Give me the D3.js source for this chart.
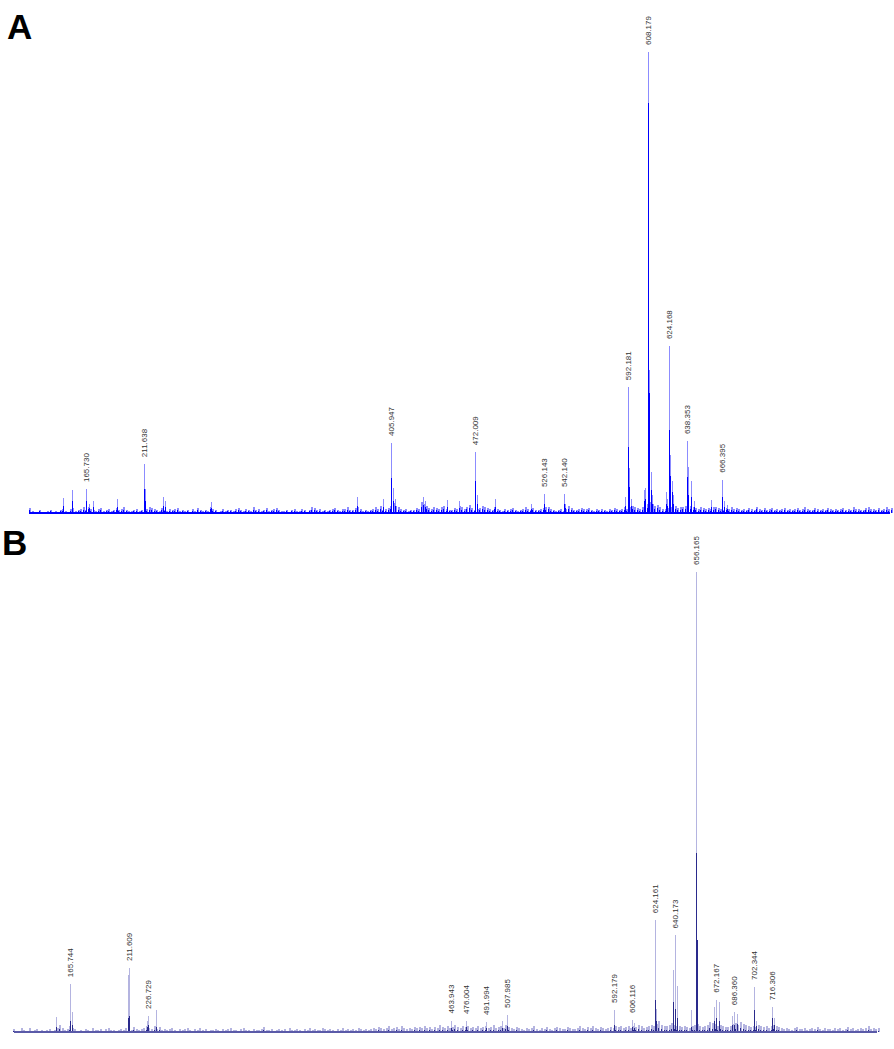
<!DOCTYPE html>
<html><head><meta charset="utf-8">
<script src="https://cdn.jsdelivr.net/npm/d3@7"></script>
<style>body{margin:0;background:#fff;}svg{display:block;}</style>
</head><body>
<svg id="chart" width="894" height="1049"></svg>
<script>
// ---------- DATA ----------
const mzDomain = [120, 800];
const intensityDomain = [0, 100];
const panelLetters = ["A", "B"];

// Panel A – prominent peaks (m/z, relative intensity of the stick top, intensity of the dense core)
const peakMzA   = [147.5,154.6,165.730,168.0,171.0,190.0,211.638,212.4,226.5,228.0,264.0,379.0,399.5,405.947,407.5,408.5,431.0,432.5,449.8,459.3,472.009,473.5,487.6,516.0,526.143,542.140,543.0,589.9,592.181,593.0,594.5,604.5,605.5,608.179,609.0,610.0,611.0,622.0,623.0,624.168,625.3,626.5,627.5,638.353,639.6,641.5,644.0,657.8,666.395,667.5,670.0];
const peakIntA  = [3.3,5.0,5.2,2.0,2.5,3.0,10.6,5.2,3.5,2.5,2.4,3.5,3.0,15.2,5.4,3.0,3.5,2.5,2.8,2.6,13.2,4.0,3.0,2.0,4.1,4.1,2.0,3.5,27.3,9.8,3.0,5.0,5.4,100,31,9,4,4.5,3.0,36.2,12.6,7.0,4.0,15.6,10.0,7.0,2.5,2.8,7.2,2.5,1.8];
const peakCoreA = [1.5,2.5,2.6,1.0,1.2,1.2,5.2,2.6,1.5,1.2,1.0,1.5,1.2,7.6,2.7,1.5,1.8,1.2,1.2,1.0,7.0,2.0,1.2,0.8,2.0,2.0,1.0,1.5,14.3,5.6,1.5,2.5,3.0,89,26,5,2,2.0,1.5,18.0,8.0,4.5,2.0,7.8,4.0,3.5,1.2,1.2,3.5,1.2,0.9];
const labelsA = ["165.730","211.638","405.947","472.009","526.143","542.140","592.181","608.179","624.168","638.353","666.395"];

// Panel B – prominent peaks
const peakMzB   = [154.5,165.744,167.0,211.0,211.609,225.5,226.729,232.9,463.943,476.004,491.994,504.0,507.985,592.179,606.116,608.0,621.5,624.161,625.0,638.5,640.173,641.5,652.5,656.165,656.9,657.5,670.5,672.167,674.2,684.5,686.360,688.5,702.344,703.5,716.306,717.5];
const peakIntB  = [3.3,10.4,4.3,12.4,13.9,2.5,3.5,4.8,2.5,2.4,2.2,2.4,3.7,4.8,2.6,2.0,1.5,24.3,5.0,13.5,21.0,10.0,4.8,100,20,9.6,5.4,7.0,6.5,3.5,4.3,4.0,9.8,2.5,5.4,3.0];
const peakCoreB = [1.0,2.5,1.5,3.0,3.5,1.0,1.5,1.0,0.8,1.0,0.8,0.8,1.2,1.5,1.0,0.8,0.6,7.0,2.5,6.5,5.0,3.0,1.0,39,20,5.0,2.5,3.0,2.5,1.5,1.5,1.8,4.8,1.2,3.1,1.5];
const labelsB = ["165.744","211.609","226.729","463.943","476.004","491.994","507.985","592.179","606.116","624.161","640.173","656.165","672.167","686.360","702.344","716.306"];

// Background noise sticks, sampled every 2 m/z from m/z 121
const noiseStart = 121, noiseStep = 2;
const noiseA = [
1.0,0.4,0.2,0.3,0.6,0.2,0.1,0.5,0.7,0.3,0.4,0.2,0.6,0.9,0.4,0.3,0.8,1.1,0.5,0.7,
0.9,1.2,0.6,1.4,0.8,0.7,0.5,0.9,1.0,0.4,0.6,0.8,0.5,0.7,1.0,0.6,0.9,1.2,0.7,0.5,
0.4,0.6,0.8,0.5,0.7,0.3,0.9,1.3,1.0,0.8,0.6,0.4,1.1,0.7,0.5,0.9,0.6,0.8,1.0,0.5,
0.7,0.4,0.6,0.3,0.8,0.5,1.0,0.6,0.4,0.7,0.5,1.4,0.9,0.6,0.3,0.5,0.8,0.4,0.6,0.7,
0.5,0.8,1.0,0.6,0.4,0.9,0.7,0.5,1.2,0.6,0.8,0.4,0.7,1.0,0.5,0.6,0.9,1.1,0.6,0.4,
0.5,0.7,0.3,0.6,0.8,0.4,0.5,0.9,0.6,0.3,0.7,1.2,1.0,0.6,0.8,0.5,0.7,0.4,0.6,0.8,
1.1,0.6,0.5,0.8,0.9,1.3,0.7,0.6,1.0,1.4,0.8,0.5,0.6,0.4,0.7,0.9,1.2,0.8,1.5,0.6,
0.8,1.0,1.6,2.2,1.5,1.2,0.8,0.6,0.9,0.5,0.7,0.6,1.0,0.8,2.4,2.0,1.6,1.1,0.9,1.3,
1.0,0.8,1.2,1.5,0.9,0.7,0.6,1.0,0.8,1.6,1.2,0.9,1.4,1.8,1.0,0.7,0.8,1.1,1.5,1.2,
1.0,0.8,0.6,1.4,0.9,0.7,0.5,0.8,0.6,0.9,1.0,0.7,0.5,0.6,0.8,1.2,0.9,0.6,1.0,0.7,
0.6,0.8,1.0,1.2,1.4,0.9,0.7,0.5,0.6,0.8,0.4,0.9,1.6,1.0,0.7,0.6,0.9,1.1,0.8,0.9,
1.0,0.7,0.5,0.8,0.6,0.9,0.7,0.5,0.8,0.6,1.0,0.8,0.6,0.9,1.2,0.8,1.4,1.6,1.2,1.0,
0.9,1.2,1.5,2.0,2.4,2.0,1.6,1.8,1.2,0.9,0.8,1.0,1.3,1.1,1.6,1.0,1.2,1.4,1.5,1.8,
1.6,1.2,1.0,0.8,1.2,1.0,0.9,1.1,0.8,1.2,1.4,1.0,0.9,0.7,1.0,0.8,1.2,0.9,1.1,0.8,
0.7,0.9,0.6,1.0,0.8,0.6,1.4,0.9,0.7,1.0,0.6,0.8,1.1,0.7,0.9,0.6,0.8,1.0,0.7,0.9,
0.6,0.8,1.0,0.7,0.9,1.2,0.8,0.6,0.7,1.0,0.8,0.6,0.9,0.7,1.1,0.8,0.6,0.9,0.7,0.8,
1.0,0.7,0.9,0.6,1.2,0.8,0.9,0.7,0.6,1.0,1.3,0.9,0.8,0.6,1.1,0.7,0.9,1.2,0.8,1.0];
const noiseB = [
0.6,0.3,0.2,0.8,0.4,0.3,0.9,0.2,0.4,0.7,0.3,0.5,0.2,0.4,0.6,0.3,0.5,0.8,1.6,0.9,
0.4,0.7,1.2,0.8,0.6,0.3,0.5,0.2,0.6,0.4,0.3,0.8,0.5,0.4,0.7,0.3,0.6,0.9,0.4,0.5,
0.3,0.5,0.7,0.4,0.8,0.6,0.4,1.0,0.7,0.5,0.6,0.9,1.2,0.8,0.6,1.4,0.7,1.0,0.5,0.6,
0.4,0.6,0.8,0.5,0.3,0.7,0.4,0.6,0.9,0.5,0.3,0.6,0.4,0.8,0.5,0.7,0.3,0.5,0.4,0.6,
0.5,0.3,0.7,0.4,0.6,0.9,0.5,0.4,0.3,0.6,0.8,0.4,0.5,0.3,0.7,0.5,0.4,0.6,1.0,0.5,
0.4,0.6,0.3,0.5,0.7,0.4,0.6,0.3,0.8,0.5,0.4,0.7,0.5,0.3,0.6,0.4,0.9,0.5,0.6,0.4,
0.5,0.8,0.6,0.4,0.7,0.5,0.3,0.6,0.4,0.8,0.5,0.7,0.4,0.6,0.5,0.9,0.6,0.4,0.7,0.5,
0.6,0.9,0.7,1.0,0.8,0.6,0.9,1.2,0.7,0.8,1.0,0.6,1.4,0.8,0.7,0.9,0.6,1.1,0.8,1.0,
0.9,1.3,0.8,1.0,0.7,1.1,0.9,1.5,1.0,0.8,1.2,0.9,1.1,1.6,1.0,0.8,1.2,1.0,1.4,0.9,
1.0,0.8,1.2,0.9,1.0,1.4,0.8,1.1,1.5,0.9,1.0,1.3,0.8,1.6,1.0,0.9,0.7,1.1,0.8,0.6,
0.5,0.8,0.6,0.9,1.2,0.7,0.5,0.8,0.6,1.0,0.7,0.5,0.9,1.1,0.8,0.6,0.7,1.0,0.8,0.6,
0.7,0.9,1.2,0.8,0.6,1.0,0.8,1.4,0.9,0.7,1.0,0.8,0.6,0.9,1.1,0.8,1.3,1.0,1.2,0.9,
1.0,1.2,0.9,1.4,1.1,1.6,1.2,0.9,1.0,1.3,1.5,1.2,1.8,2.4,1.6,1.4,1.2,1.5,2.0,1.6,
1.4,1.2,1.0,1.3,1.1,0.9,1.2,1.5,1.8,1.3,1.0,1.2,1.5,2.2,2.0,1.8,1.4,1.6,1.2,1.0,
1.1,1.4,1.8,2.0,1.6,2.2,1.8,1.5,1.2,1.0,1.3,1.1,1.6,1.2,1.0,1.3,0.9,1.4,1.6,1.2,
1.0,0.8,0.6,0.9,0.7,0.5,0.8,1.0,0.7,0.6,0.9,0.5,0.7,0.8,0.6,1.0,0.7,0.5,0.8,0.6,
0.7,0.5,0.9,0.6,0.8,0.5,0.7,1.0,0.6,0.8,0.5,0.7,0.9,0.6,0.8,1.2,0.7,0.9,0.6,0.8];

// ---------- DRAWING ----------
const svg = d3.select("#chart");
svg.append("rect").attr("width", 894).attr("height", 1049).attr("fill", "#fff");

const panels = [
  { letter: panelLetters[0], mz: peakMzA, top: peakIntA, core: peakCoreA, labels: labelsA, noise: noiseA,
    xr: [28, 892], yr: [513, 52], base: [29, 890], light: "#8c8cff", dark: "#0000ff", baseColor: "#0000ff",
    noiseCore: 0.55, letterPos: [7, 39] },
  { letter: panelLetters[1], mz: peakMzB, top: peakIntB, core: peakCoreB, labels: labelsB, noise: noiseB,
    xr: [12, 879], yr: [1032, 572], base: [14, 877], light: "#b4b4e0", dark: "#2a2a8c", baseColor: "#5a5aa8",
    noiseCore: 0.35, letterPos: [2, 555] }
];

panels.forEach(p => {
  const x = d3.scaleLinear().domain(mzDomain).range(p.xr);
  const y = d3.scaleLinear().domain(intensityDomain).range(p.yr);
  const g = svg.append("g").attr("shape-rendering", "crispEdges");

  const noise = p.noise.map((v, i) => ({ mz: noiseStart + i * noiseStep, v }));
  const peaks = p.mz.map((m, i) => ({ mz: m, v: p.top[i], c: p.core[i] }));

  const px = d => Math.round(x(d.mz));

  // noise light + dark (2px wide sticks)
  g.selectAll(".nl").data(noise).join("rect")
    .attr("x", px).attr("width", 2)
    .attr("y", d => y(d.v)).attr("height", d => y(0) - y(d.v))
    .attr("fill", p.light);
  g.selectAll(".nd").data(noise).join("rect")
    .attr("x", px).attr("width", 1)
    .attr("y", d => y(d.v * p.noiseCore)).attr("height", d => y(0) - y(d.v * p.noiseCore))
    .attr("fill", p.dark);

  // peaks light then core
  g.selectAll(".pl").data(peaks).join("rect")
    .attr("x", px).attr("width", 1)
    .attr("y", d => y(d.v)).attr("height", d => y(0) - y(d.v))
    .attr("fill", p.light);
  g.selectAll(".pd").data(peaks).join("rect")
    .attr("x", px).attr("width", 1)
    .attr("y", d => y(d.c)).attr("height", d => y(0) - y(d.c))
    .attr("fill", p.dark);

  // baseline
  g.append("rect")
    .attr("x", p.base[0]).attr("width", p.base[1] - p.base[0])
    .attr("y", y(0) - 1).attr("height", 2)
    .attr("fill", p.baseColor);

  // peak labels
  const lab = p.labels.map(t => {
    const m = parseFloat(t);
    const pk = peaks.find(d => Math.abs(d.mz - m) < 0.01);
    return { t, mz: m, v: pk ? pk.v : 0 };
  });
  svg.append("g").selectAll("text").data(lab).join("text")
    .attr("transform", d => `translate(${Math.round(x(d.mz)) + 0.5},${y(d.v) - 7}) rotate(-90)`)
    .attr("dy", "0.35em")
    .attr("font-family", "Liberation Sans, Arial, sans-serif")
    .attr("font-size", 8)
    .attr("fill", "#333")
    .text(d => d.t);

  // panel letter
  svg.append("text")
    .attr("x", p.letterPos[0]).attr("y", p.letterPos[1])
    .attr("font-family", "Liberation Sans, Arial, sans-serif")
    .attr("font-weight", "bold").attr("font-size", 35)
    .attr("fill", "#000")
    .text(p.letter);
});
</script>
</body></html>
